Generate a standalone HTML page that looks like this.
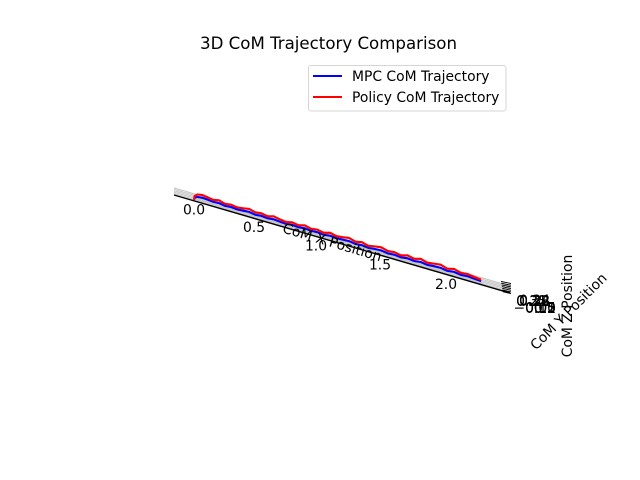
<!DOCTYPE html>
<html>
<head>
<meta charset="utf-8">
<style>
html,body{margin:0;padding:0;background:#fff;}
svg{display:block;font-family:"DejaVu Sans","Liberation Sans",sans-serif;}
</style>
</head>
<body>
<svg id="chart" width="640" height="480" viewBox="0 0 640 480" xmlns="http://www.w3.org/2000/svg">
<rect width="640" height="480" fill="#fff"/>
<text x="328.5" y="49" font-size="16.67" text-anchor="middle" fill="#000" textLength="257" lengthAdjust="spacingAndGlyphs">3D CoM Trajectory Comparison</text>
<g id="plot"></g>
<text transform="translate(332 243) rotate(16.5)" font-size="13.89" text-anchor="middle" dominant-baseline="middle" fill="#000">CoM X Position</text>
<text transform="translate(569 312) rotate(-45)" font-size="13.89" text-anchor="middle" dominant-baseline="middle" fill="#000">CoM Y Position</text>
<text transform="translate(568 306) rotate(-90)" font-size="13.89" text-anchor="middle" dominant-baseline="middle" fill="#000">CoM Z Position</text>
<g>
<rect x="308.5" y="65.5" width="197.5" height="45.5" rx="2.5" fill="#fff" fill-opacity="0.8" stroke="#d5d5d5"/>
<line x1="313" y1="76" x2="342" y2="76" stroke="#0000ff" stroke-width="2.08"/>
<text x="352" y="81" font-size="13.89" fill="#000">MPC CoM Trajectory</text>
<line x1="313" y1="97" x2="342" y2="97" stroke="#ff0000" stroke-width="2.08"/>
<text x="352" y="102" font-size="13.89" fill="#000">Policy CoM Trajectory</text>
</g>
</svg>
<script>
const xValues = [0,0.005,0.03,0.07,0.11,0.16,0.21,0.26,0.31,0.36,0.41,0.46,0.51,0.56,0.61,0.66,0.71,0.76,0.81,0.86,0.91,0.96,1.01,1.06,1.11,1.16,1.21,1.26,1.31,1.36,1.41,1.46,1.51,1.56,1.61,1.66,1.71,1.76,1.81,1.86,1.91,1.96,2.01,2.06,2.11,2.16,2.21,2.26];
const policyZ = [0.0,0.2,0.32,0.36,0.33,0.28,0.34,0.25,0.3,0.25,0.29,0.35,0.27,0.31,0.25,0.34,0.28,0.23,0.31,0.25,0.34,0.26,0.31,0.24,0.34,0.26,0.3,0.36,0.26,0.33,0.24,0.31,0.36,0.27,0.31,0.24,0.34,0.26,0.36,0.26,0.31,0.36,0.25,0.34,0.24,0.28,0.23,0.2];
const mpcZ = [0.0,0.12,0.2,0.22,0.21,0.18,0.2,0.15,0.18,0.15,0.17,0.2,0.15,0.18,0.15,0.19,0.16,0.14,0.18,0.15,0.19,0.16,0.18,0.14,0.19,0.16,0.18,0.2,0.15,0.18,0.14,0.18,0.2,0.15,0.18,0.14,0.19,0.15,0.2,0.15,0.18,0.2,0.14,0.19,0.14,0.17,0.14,0.12];
const xTicks = [0,0.5,1,1.5,2];
const xTickLabels = ["0.0","0.5","1.0","1.5","2.0"];
const zTickLabels = ["0.34","0.31","0.28","0.25","0.22","0.2","0.15","0.1","0.05","0.0","\u22120.05"];

const NS = "http://www.w3.org/2000/svg";
const plot = document.getElementById("plot");
function px(x){ return 194 + 118 * x + 4 * x * x; }
function baseY(sx){ return 195 + (sx - 174) * 0.2917; }
function py(x, z){ return baseY(px(x)) - (z + 0.05) * 20; }
function make(tag, attrs, parent){
  const el = document.createElementNS(NS, tag);
  for (const k in attrs) el.setAttribute(k, attrs[k]);
  (parent || plot).appendChild(el);
  return el;
}

const pane = make("polygon", {points:"174,187 510,285 510,293 174,195", fill:"#ececec"});


for (let i = 1; i <= 5; i++) {
  const g = make("line", {x1:174, y1:195 - i * 1.4, x2:510, y2:293 - i * 1.4, stroke:"#bdbdbd", "stroke-width":0.7});
  
  
}
const floor = make("polygon", {points:"194,196 482,281 482,284.5 194,200.5", fill:"#c6c6c6"});


const axis = make("line", {x1:174, y1:195, x2:510, y2:293, stroke:"#000", "stroke-width":1.4});


for (let i = 0; i < 7; i++) {
  const t = make("line", {x1:501 + i * 0.3, y1:281.5 + i * 1.7, x2:511, y2:283.5 + i * 1.7, stroke:"#000", "stroke-width":0.9});
  
  
}

function pathFor(zs){
  return xValues.map((x, i) => (i ? "L" : "M") + px(x).toFixed(1) + " " + py(x, zs[i]).toFixed(1)).join(" ");
}
const mpcLine = make("path", {d:pathFor(mpcZ), fill:"none", stroke:"#0000ff", "stroke-width":2.08});


const policyLine = make("path", {d:pathFor(policyZ), fill:"none", stroke:"#ff0000", "stroke-width":2.08});



xTicks.forEach((x, i) => {
  const t = make("text", {x:px(x), y:baseY(px(x)) + 13.5 + i * 0.3, "font-size":13.89, "text-anchor":"middle", fill:"#000"});
  t.textContent = xTickLabels[i];
  
  
});
zTickLabels.forEach((s, i) => {
  const isLow = i >= 5;
  const t = make("text", {x:isLow ? 556 : 550 - (i % 2) * 3, y:isLow ? 313 - (i - 5) * 0.1 : 305 + i * 0.3, "font-size":13.89, "text-anchor":"end", fill:"#000"});
  t.textContent = s;
  
  
});
</script>
</body>
</html>
